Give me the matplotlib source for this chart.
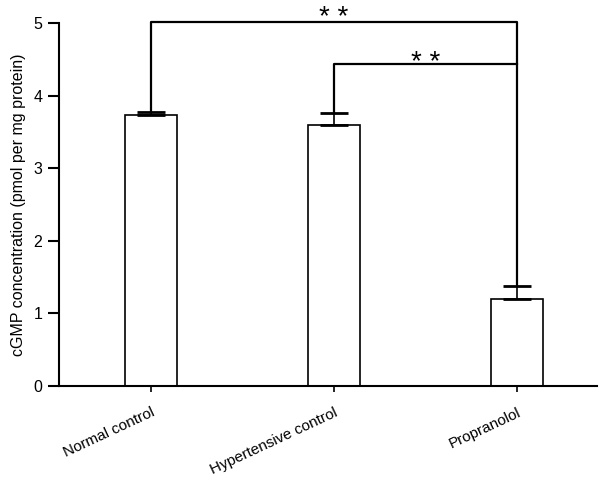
import numpy as np
import matplotlib
matplotlib.use("Agg")
import matplotlib.pyplot as plt
import matplotlib.transforms as mtransforms

plt.rcParams['font.family'] = ['Liberation Sans', 'DejaVu Sans']

# data
groups = ['Normal control', 'Hypertensive control', 'Propranolol']
cgmp_mean = [3.74, 3.60, 1.20]
cgmp_sem = [0.04, 0.16, 0.18]

fig = plt.figure(figsize=(6.0, 4.82), dpi=100)
ax = fig.add_axes([0.0983, 0.199, 0.8967, 0.753])

x = np.arange(len(groups))
ax.bar(x, cgmp_mean, width=0.28, color='white', edgecolor='black', linewidth=1.2, zorder=2)
ax.errorbar(x, cgmp_mean, yerr=[np.zeros(len(x)), cgmp_sem], fmt='none',
            ecolor='black', elinewidth=1.2, capsize=10, capthick=2.0, zorder=3)

# significance brackets (Propranolol vs. each control)
tops = np.array(cgmp_mean) + np.array(cgmp_sem)
line_kw = dict(color='black', linewidth=1.6, clip_on=False, zorder=4)
ax.plot([x[0], x[0], x[2], x[2]], [tops[0], 5.02, 5.02, tops[2]], **line_kw)
ax.plot([x[1], x[1], x[2]], [tops[1], 4.44, 4.44], **line_kw)
ax.annotate('* *', xy=(1.0, 5.02), xytext=(0, -2.5), textcoords='offset points',
            ha='center', va='baseline', fontsize=20, annotation_clip=False)
ax.annotate('* *', xy=(1.5, 4.44), xytext=(0, -4.5), textcoords='offset points',
            ha='center', va='baseline', fontsize=20)

ax.set_xlim(-0.503, 2.437)
ax.set_ylim(0, 5)
ax.set_yticks(range(6))
ax.set_ylabel('cGMP concentration (pmol per mg protein)', fontsize=11.5, labelpad=5)

ax.set_xticks(x)
ax.set_xticklabels(groups, fontsize=11, rotation=25, ha='right', rotation_mode='anchor')
offset = mtransforms.ScaledTranslation(8 / 72, 0, fig.dpi_scale_trans)
for lbl in ax.get_xticklabels():
    lbl.set_transform(lbl.get_transform() + offset)

ax.tick_params(axis='y', length=8, width=1.5, labelsize=11.5, pad=4)
ax.tick_params(axis='x', length=4, width=1.2, pad=10)
for side in ['top', 'right']:
    ax.spines[side].set_visible(False)
for side in ['left', 'bottom']:
    ax.spines[side].set_linewidth(1.5)

fig.savefig('out.png', dpi=100)
